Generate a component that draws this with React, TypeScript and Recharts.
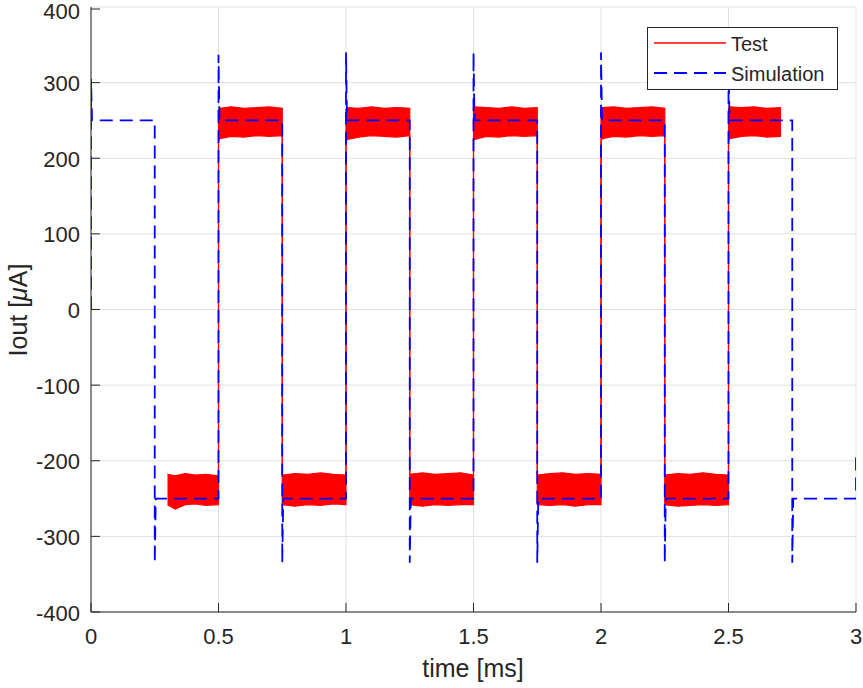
import { ComposedChart, Line, Area, XAxis, YAxis, CartesianGrid, Legend } from 'recharts';

const WIDTH = 863;
const HEIGHT = 688;
// plot box in page pixels (MATLAB-style axes)
const PLOT = { left: 91, right: 856, top: 7, bottom: 612 };
const TICK_LEN = 9;
const AXIS_COLOR = '#262626';
const FONT = '"Liberation Sans", Arial, Helvetica, sans-serif';

const xTicks = [0, 0.5, 1, 1.5, 2, 2.5, 3];
const yTicks = [-400, -300, -200, -100, 0, 100, 200, 300, 400];

// Simulation: ideal square wave with overshoot at each edge
const simTime = [
  0, 0, 0.004, 0.25, 0.25, 0.254, 0.5, 0.5, 0.504, 0.75, 0.75, 0.754,
  1.0, 1.0, 1.004, 1.25, 1.25, 1.254, 1.5, 1.5, 1.504, 1.75, 1.75, 1.754,
  2.0, 2.0, 2.004, 2.25, 2.25, 2.254, 2.5, 2.5, 2.504, 2.75, 2.75, 2.754,
  3.0, 3.0,
];
const simCurrent = [
  0, 305, 250, 250, -335, -250, -250, 337, 250, 250, -335, -250,
  -250, 340, 250, 250, -335, -250, -250, 340, 250, 250, -335, -250,
  -250, 340, 250, 250, -335, -250, -250, 340, 250, 250, -335, -250,
  -250, -192,
];

// Test: measured current, drawn as the envelope of the noisy band
const testTime = [
  0.3, 0.33, 0.37, 0.41, 0.45, 0.5,
  0.5, 0.505, 0.55, 0.6, 0.65, 0.7, 0.75,
  0.75, 0.8, 0.85, 0.9, 0.95, 1.0,
  1.0, 1.005, 1.05, 1.1, 1.15, 1.2, 1.25,
  1.25, 1.3, 1.35, 1.4, 1.45, 1.5,
  1.5, 1.505, 1.55, 1.6, 1.65, 1.7, 1.75,
  1.75, 1.8, 1.85, 1.9, 1.95, 2.0,
  2.0, 2.005, 2.05, 2.1, 2.15, 2.2, 2.25,
  2.25, 2.3, 2.35, 2.4, 2.45, 2.5,
  2.5, 2.505, 2.55, 2.6, 2.65, 2.706,
];
const testUpper = [
  -218, -220, -217, -219, -218, -220,
  264, 266, 268, 266, 267, 268, 266,
  -219, -217, -218, -216, -218, -219,
  265, 267, 266, 268, 266, 267, 266,
  -218, -216, -218, -217, -216, -219,
  266, 268, 267, 266, 268, 266, 267,
  -219, -217, -216, -218, -217, -218,
  265, 267, 268, 266, 267, 268, 266,
  -219, -217, -218, -216, -218, -219,
  266, 268, 267, 268, 266, 267,
];
const testLower = [
  -258, -264, -258, -257, -259, -258,
  222, 226, 229, 228, 230, 229, 230,
  -258, -260, -258, -259, -257, -258,
  222, 225, 228, 230, 229, 228, 230,
  -258, -260, -258, -259, -258, -258,
  223, 225, 229, 228, 230, 229, 230,
  -258, -259, -258, -260, -258, -258,
  222, 226, 229, 228, 230, 229, 230,
  -258, -260, -259, -258, -259, -258,
  222, 226, 229, 230, 228, 229,
];

const simData = simTime.map((t, i) => ({ t, iout: simCurrent[i] }));
const testData = testTime.map((t, i) => ({ t, band: [testLower[i], testUpper[i]] }));

const textStyle = { fontFamily: FONT, fontSize: 22, fill: AXIS_COLOR };
const titleStyle = { ...textStyle, fontSize: 25 };

function BottomTick({ x, payload }: any) {
  return (
    <g>
      <line x1={x} x2={x} y1={PLOT.bottom} y2={PLOT.bottom - TICK_LEN} stroke={AXIS_COLOR} />
      <text x={x} y={636} textAnchor="middle" dominantBaseline="central" {...textStyle}>
        {payload.value}
      </text>
    </g>
  );
}

function TopTick({ x }: any) {
  return <line x1={x} x2={x} y1={PLOT.top} y2={PLOT.top + TICK_LEN} stroke={AXIS_COLOR} />;
}

function LeftTick({ y, payload }: any) {
  return (
    <g>
      <line x1={PLOT.left} x2={PLOT.left + TICK_LEN} y1={y} y2={y} stroke={AXIS_COLOR} />
      <text x={80} y={Math.max(y + 1, 11)} textAnchor="end" dominantBaseline="central" {...textStyle}>
        {payload.value}
      </text>
    </g>
  );
}

function RightTick({ y }: any) {
  return <line x1={PLOT.right} x2={PLOT.right - TICK_LEN} y1={y} y2={y} stroke={AXIS_COLOR} />;
}

const renderXTitle = () => (
  <text x={473} y={668} textAnchor="middle" dominantBaseline="central" {...titleStyle}>
    time [ms]
  </text>
);

const renderYTitle = () => (
  <text
    x={18}
    y={310}
    textAnchor="middle"
    dominantBaseline="central"
    transform="rotate(-90 18 310)"
    {...titleStyle}
  >
    Iout [<tspan fontStyle="italic">μ</tspan>A]
  </text>
);

function LegendBox() {
  return (
    <svg width={191} height={63} style={{ display: 'block', background: '#fff' }}>
      <rect x={0.5} y={0.5} width={190} height={62} fill="#fff" stroke={AXIS_COLOR} />
      <line x1={7} x2={79} y1={16} y2={16} stroke="#ff0000" strokeWidth={1.5} />
      <text x={84} y={17} dominantBaseline="central" {...textStyle} fontSize={20}>
        Test
      </text>
      <line x1={7} x2={79} y1={46} y2={46} stroke="#0000ff" strokeWidth={1.8} strokeDasharray="13 7" />
      <text x={84} y={47} dominantBaseline="central" {...textStyle} fontSize={20}>
        Simulation
      </text>
    </svg>
  );
}

export default function App() {
  return (
    <div style={{ position: 'absolute', left: 0, top: 0, width: WIDTH, height: HEIGHT, background: '#fff' }}>
      <ComposedChart
        width={WIDTH}
        height={HEIGHT}
        margin={{ top: PLOT.top, right: WIDTH - PLOT.right, bottom: 36, left: PLOT.left - 60 }}
      >
        <CartesianGrid stroke="#e1e1e1" strokeWidth={1} />
        <XAxis
          dataKey="t"
          type="number"
          domain={[0, 3]}
          ticks={xTicks}
          allowDataOverflow
          height={40}
          axisLine={{ stroke: AXIS_COLOR }}
          tickLine={false}
          tick={BottomTick}
          label={renderXTitle}
        />
        <XAxis
          xAxisId="top"
          orientation="top"
          dataKey="t"
          type="number"
          domain={[0, 3]}
          ticks={xTicks}
          allowDataOverflow
          height={0}
          axisLine={{ stroke: AXIS_COLOR }}
          tickLine={false}
          tick={TopTick}
        />
        <YAxis
          type="number"
          domain={[-400, 400]}
          ticks={yTicks}
          allowDataOverflow
          width={60}
          axisLine={{ stroke: AXIS_COLOR }}
          tickLine={false}
          tick={LeftTick}
          label={renderYTitle}
        />
        <YAxis
          yAxisId="right"
          orientation="right"
          type="number"
          domain={[-400, 400]}
          ticks={yTicks}
          allowDataOverflow
          width={0}
          axisLine={{ stroke: AXIS_COLOR }}
          tickLine={false}
          tick={RightTick}
        />
        <Area
          data={testData}
          dataKey="band"
          type="linear"
          stroke="#ff0000"
          strokeWidth={1.2}
          fill="#ff0000"
          fillOpacity={1}
          dot={false}
          activeDot={false}
          isAnimationActive={false}
        />
        <Line
          data={simData}
          dataKey="iout"
          type="linear"
          stroke="#0000ff"
          strokeWidth={1.8}
          strokeDasharray="13 7"
          dot={false}
          activeDot={false}
          isAnimationActive={false}
        />
        <Legend
          layout="vertical"
          align="center"
          verticalAlign="middle"
          wrapperStyle={{ left: 647, top: 27, width: 191, height: 63 }}
          content={LegendBox}
        />
      </ComposedChart>
    </div>
  );
}
